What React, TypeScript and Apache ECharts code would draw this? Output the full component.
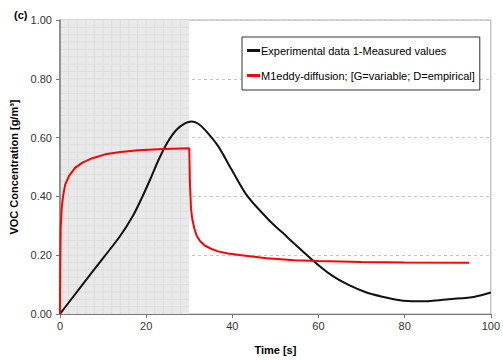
import React, { useEffect, useRef } from "react";
import * as echarts from "echarts";

const measuredName = "Experimental data 1-Measured values";
const modelName = "M1eddy-diffusion; [G=variable; D=empirical]";

const measured: [number, number][] = [
  [0, 0], [5, 0.096], [10, 0.19], [14, 0.266], [17, 0.336], [19, 0.395],
  [21, 0.46], [23, 0.528], [25, 0.585], [27, 0.626], [29, 0.648],
  [30.5, 0.655], [32, 0.648], [33.6, 0.627], [36.7, 0.571],
  [39.8, 0.492], [43.6, 0.399], [49, 0.312], [51.7, 0.276], [54.4, 0.239],
  [58.7, 0.182], [63, 0.132], [67.1, 0.098], [71, 0.074], [74.8, 0.059],
  [78.5, 0.048], [82.5, 0.043], [86, 0.044], [90.2, 0.05], [96.3, 0.059],
  [100, 0.073],
];

const model: [number, number][] = [
  [0, 0], [0.05, 0.15], [0.15, 0.29], [0.4, 0.36], [0.7, 0.4], [1.2, 0.44],
  [2.1, 0.47], [3.5, 0.497], [5.2, 0.515], [7.5, 0.53], [10.5, 0.543],
  [14, 0.551], [18.2, 0.557], [24, 0.561], [30, 0.564], [30.15, 0.45],
  [30.4, 0.36], [30.7, 0.323], [31.2, 0.29], [31.7, 0.267], [32.5, 0.248],
  [33.6, 0.233], [35, 0.222], [36.7, 0.213], [39, 0.206], [42.1, 0.2],
  [48, 0.19], [54.4, 0.183], [60, 0.18], [70, 0.177], [80, 0.175], [95, 0.174],
];

const shadeRange = [0, 30];
const yTicks = [0, 0.2, 0.4, 0.6, 0.8, 1.0];
const xTicks = [0, 20, 40, 60, 80, 100];

export default function App() {
  const ref = useRef<HTMLDivElement>(null);
  useEffect(() => {
    if (!ref.current) return;
    const chart = echarts.init(ref.current, null, { renderer: "svg" });
    const font = "Liberation Sans, Arial, sans-serif";
    chart.setOption({
      animation: false,
      textStyle: { fontFamily: font },
      title: {
        text: "(c)",
        left: 9,
        top: 4,
        textStyle: { fontSize: 11, fontWeight: "bold", color: "#000", fontFamily: font },
      },
      grid: {
        left: 60,
        right: 11,
        top: 20,
        bottom: 44,
        show: true,
        borderColor: "#aaa",
        borderWidth: 1,
        backgroundColor: "transparent",
      },
      legend: {
        data: [measuredName, modelName],
        orient: "vertical",
        left: 242,
        top: 37,
        itemWidth: 13,
        itemHeight: 3,
        itemGap: 14,
        padding: [8, 5, 9, 5],
        backgroundColor: "#fff",
        borderColor: "#333",
        borderWidth: 1,
        icon: "rect",
        textStyle: { fontSize: 11, color: "#000", fontFamily: font, padding: [0, 0, 0, -4] },
      },
      xAxis: {
        type: "value",
        min: xTicks[0],
        max: xTicks[xTicks.length - 1],
        interval: 20,
        name: "Time [s]",
        nameLocation: "middle",
        nameGap: 30,
        nameTextStyle: { fontSize: 11, fontWeight: "bold", color: "#000" },
        axisLine: { lineStyle: { color: "#777", width: 1 } },
        axisTick: { show: true, length: 4, lineStyle: { color: "#777" } },
        axisLabel: { fontSize: 11, color: "#333", margin: 6 },
        splitLine: { show: false },
      },
      yAxis: {
        type: "value",
        min: yTicks[0],
        max: yTicks[yTicks.length - 1],
        interval: 0.2,
        name: "VOC Concentration [g/m³]",
        nameLocation: "middle",
        nameGap: 40,
        nameTextStyle: { fontSize: 11, fontWeight: "bold", color: "#000" },
        axisLine: { show: true, lineStyle: { color: "#777", width: 1.5 } },
        axisTick: { show: true, length: 4, lineStyle: { color: "#777" } },
        axisLabel: { fontSize: 11, color: "#333", margin: 8, formatter: (v: number) => v.toFixed(2) },
        splitLine: { show: true, lineStyle: { color: "#c8c8c8", type: [3, 3], width: 1 } },
      },
      series: [
        {
          type: "custom",
          name: "shade",
          silent: true,
          z: 0,
          data: [[shadeRange[0], shadeRange[1]]],
          encode: { x: [0, 1] },
          renderItem: (params: any, api: any) => {
            const x0 = api.value(0);
            const x1 = api.value(1);
            const p0 = api.coord([x0, 1]);
            const p1 = api.coord([x1, 0]);
            const children: any[] = [
              {
                type: "rect",
                shape: { x: p0[0], y: p0[1], width: p1[0] - p0[0], height: p1[1] - p0[1] },
                style: { fill: "#e9e9e9" },
              },
            ];
            for (let x = x0 + 2; x < x1; x += 2) {
              const a = api.coord([x, 1]);
              const b = api.coord([x, 0]);
              children.push({
                type: "line",
                shape: { x1: a[0], y1: a[1], x2: b[0], y2: b[1] },
                style: { stroke: "#dedede", lineWidth: 1 },
              });
            }
            for (let y = 0.025; y < 1; y += 0.025) {
              const a = api.coord([x0, y]);
              const b = api.coord([x1, y]);
              children.push({
                type: "line",
                shape: { x1: a[0], y1: a[1], x2: b[0], y2: b[1] },
                style: { stroke: "#dedede", lineWidth: 1 },
              });
            }
            return { type: "group", children };
          },
        },
        {
          type: "line",
          name: measuredName,
          data: measured,
          showSymbol: false,
          symbol: "none",
          smooth: 0.3,
          z: 3,
          itemStyle: { color: "#111" },
          lineStyle: { color: "#111", width: 2 },
        },
        {
          type: "line",
          name: modelName,
          data: model,
          showSymbol: false,
          symbol: "none",
          smooth: false,
          z: 4,
          itemStyle: { color: "#ff0000" },
          lineStyle: { color: "#ff0000", width: 2 },
        },
      ],
    });
    return () => chart.dispose();
  }, []);
  return <div ref={ref} style={{ width: 503, height: 360, position: "absolute", left: 0, top: 0, background: "#fff" }} />;
}
